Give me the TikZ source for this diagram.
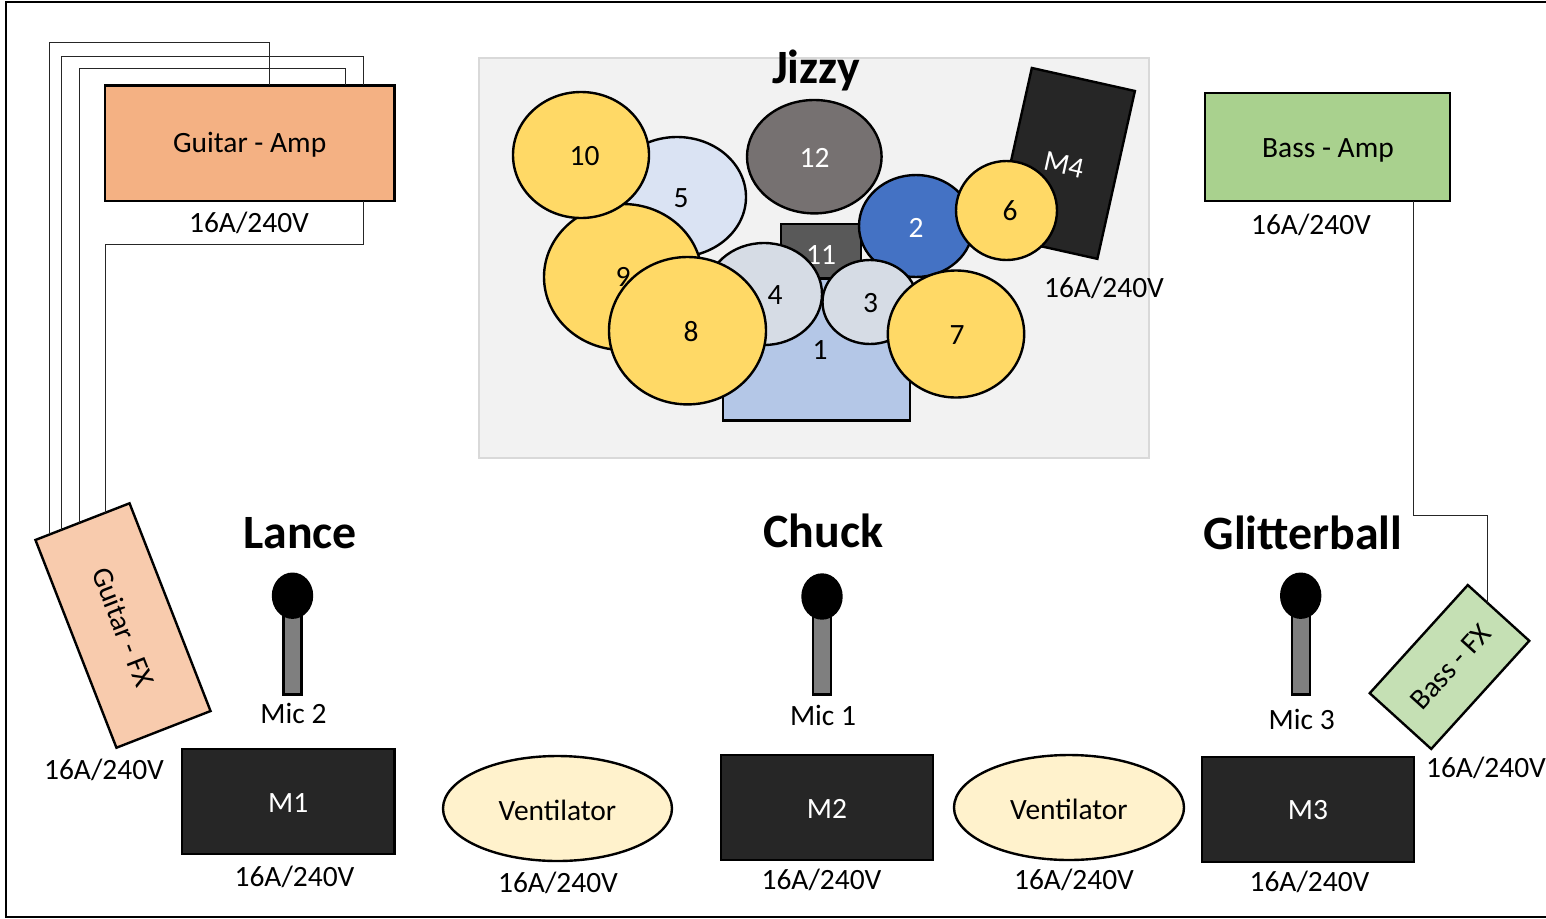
\documentclass[tikz,border=0pt]{standalone}
\usepackage{fontspec}
\setmainfont{Carlito}
\usetikzlibrary{shapes.geometric,calc}
\def\px{0.75pt}
\definecolor{stagefill}{HTML}{F2F2F2}
\definecolor{stageedge}{HTML}{D9D9D9}
\definecolor{cymbal}{HTML}{FFD966}
\definecolor{monitor}{HTML}{262626}
\definecolor{tomlight}{HTML}{DAE3F3}
\definecolor{tomgrey}{HTML}{D6DCE5}
\definecolor{kick}{HTML}{B4C7E7}
\definecolor{tomblue}{HTML}{4472C4}
\definecolor{tomdark}{HTML}{767171}
\definecolor{seat}{HTML}{595959}
\definecolor{stem}{HTML}{7F7F7F}
\definecolor{gamp}{HTML}{F4B183}
\definecolor{gfx}{HTML}{F8CBAD}
\definecolor{bamp}{HTML}{A9D18E}
\definecolor{bfx}{HTML}{C5E0B4}
\definecolor{vent}{HTML}{FFF2CC}
\tikzset{
  txt/.style={font=\fontsize{22.1pt}{26pt}\selectfont,inner sep=0pt},
  head/.style={font=\fontsize{35.9pt}{42pt}\selectfont\bfseries,inner sep=0pt},
  box/.style={draw=black,line width=1.8pt,inner sep=0pt,outer sep=0pt,txt},
  disc/.style={box,ellipse},
  wire/.style={line width=1*\px,draw=black!85},
}
\begin{document}
\begin{tikzpicture}[x=0.75pt,y=0.75pt,yscale=-1,xscale=1]
\useasboundingbox (0,0) rectangle (1546,918);

%Shape: Rectangle
\draw [line width=1.5pt] (6,1.5) rectangle (1570,916.7);
%Shape: Rectangle
\node (stage) at (814,258) [draw=stageedge,fill=stagefill,line width=1.5pt,minimum width=670*\px,minimum height=400*\px] {};
\node (jizzy) at (816,70) [head] {Jizzy};

%Shape: Rectangle
\node (m4) at (1064.6,163.4) [box,fill=monitor,rotate=-12.6,minimum width=105.6*\px,minimum height=172*\px] {};
\node (m4txt) at (1064,165) [txt,text=white,rotate=-12.6] {M4};
\node (d1) at (816.5,349.5) [box,fill=kick,minimum width=187*\px,minimum height=142*\px] {};
\node (d1txt) at (820,350) [txt] {1};
\node (d11) at (820.7,251) [box,fill=seat,minimum width=80*\px,minimum height=54*\px] {};
\node (d11txt) at (821,255) [txt,text=white] {11};
%Shape: Ellipse
\node (d2) at (916,226) [disc,fill=tomblue,minimum width=114*\px,minimum height=102*\px] {};
\node (d2txt) at (916,228) [txt,text=white] {2};
\node (d12) at (814.3,156.7) [disc,fill=tomdark,minimum width=134.6*\px,minimum height=113.4*\px] {};
\node (d12txt) at (814.5,158) [txt,text=white] {12};
\node (d5) at (677,197) [disc,fill=tomlight,minimum width=138*\px,minimum height=120*\px] {};
\node (d5txt) at (681,198) [txt] {5};
\node (d9) at (623,277) [disc,fill=cymbal,minimum width=158*\px,minimum height=146*\px] {9};
\node (d10) at (581,155) [disc,fill=cymbal,minimum width=136*\px,minimum height=126*\px] {};
\node (d10txt) at (584.5,156) [txt] {10};
\node (d4) at (764,294) [disc,fill=tomgrey,minimum width=116*\px,minimum height=102*\px] {};
\node (d4txt) at (775,295) [txt] {4};
\node (d3) at (870,302) [disc,fill=tomgrey,minimum width=95*\px,minimum height=84*\px] {};
\node (d3txt) at (870.5,303) [txt] {3};
\node (d8) at (687.5,330.7) [disc,fill=cymbal,minimum width=157*\px,minimum height=147.4*\px] {};
\node (d8txt) at (691,332) [txt] {8};
\node (d7) at (956,334) [disc,fill=cymbal,minimum width=136.4*\px,minimum height=127*\px] {};
\node (d7txt) at (957,335) [txt] {7};
\node (d6) at (1006.5,210.5) [disc,fill=cymbal,minimum width=101*\px,minimum height=99*\px] {};
\node (d6txt) at (1010,211) [txt] {6};

%Shape: Rectangle
\node (guitaramp) at (249.7,143.2) [box,fill=gamp,minimum width=289.4*\px,minimum height=115.7*\px] {};
\node (guitaramptxt) at (249.7,144.5) [txt] {Guitar - Amp};
\node (bassamp) at (1327.5,147) [box,fill=bamp,minimum width=245*\px,minimum height=108*\px] {};
\node (bassamptxt) at (1328,150) [txt] {Bass - Amp};
\node (guitarfx) at (123,625.5) [box,fill=gfx,rotate=-68.7,minimum width=223*\px,minimum height=101*\px] {};
\node (guitarfxtxt) at (123.5,627) [txt,rotate=-68.7] {Guitar - FX};
\node (bassfx) at (1449.5,667) [box,fill=bfx,rotate=47.8,minimum width=146*\px,minimum height=83*\px] {};
\node (bassfxtxt) at (1450.5,667) [txt,rotate=47.8] {Bass - FX};

%Straight Lines
\coordinate (wirea) at (269.3,42.3);
\coordinate (wireb) at (363.3,56.7);
\coordinate (wirec) at (345.3,68.7);
\coordinate (wired) at (363.3,244);
\coordinate (wiree) at (1413.7,515.3);
\coordinate (fxa) at ($(guitarfx.south west)!0.15!(guitarfx.north west)$);
\coordinate (fxb) at ($(guitarfx.south west)!0.277!(guitarfx.north west)$);
\coordinate (fxc) at ($(guitarfx.south west)!0.466!(guitarfx.north west)$);
\coordinate (fxd) at ($(guitarfx.south west)!0.744!(guitarfx.north west)$);
\coordinate (fxe) at ($(bassfx.north east)!0.323!(bassfx.south east)$);
\draw [wire] (fxa) |- (wirea) -- (wirea |- guitaramp.north);
\draw [wire] (fxb) |- (wireb) -- (wireb |- guitaramp.north);
\draw [wire] (fxc) |- (wirec) -- (wirec |- guitaramp.north);
\draw [wire] (wired |- guitaramp.south) -- (wired) -| (fxd);
\draw [wire] (wiree |- bassamp.south) -- (wiree) -| (fxe);

% Mics
\foreach \name/\mx/\my/\mlabel/\ly in {mictwo/292.5/595.7/Mic 2/713,micone/822/596.5/Mic 1/715,micthree/1300.7/595.7/Mic 3/719}{
  \node (\name stem) at (\mx,655) [box,fill=stem,minimum width=18*\px,minimum height=79*\px] {};
  \node (\name head) at (\mx,\my) [disc,fill=black,minimum width=39*\px,minimum height=44*\px] {};
  \node (\name txt) at (\mx+1,\ly) [txt] {\mlabel};
}

%Shape: Rectangle
\node (m1) at (288.3,801.5) [box,fill=monitor,minimum width=212.7*\px,minimum height=105*\px] {};
\node (m1txt) at (288.3,803.5) [txt,text=white] {M1};
\node (m2) at (827,807.5) [box,fill=monitor,minimum width=212*\px,minimum height=105*\px] {};
\node (m2txt) at (827,809) [txt,text=white] {M2};
\node (m3) at (1308,809.2) [box,fill=monitor,minimum width=212*\px,minimum height=105*\px] {};
\node (m3txt) at (1308,810.5) [txt,text=white] {M3};
%Shape: Ellipse
\node (venta) at (557.5,808.5) [disc,fill=vent,minimum width=229*\px,minimum height=105*\px] {};
\node (ventatxt) at (557.5,810.5) [txt] {Ventilator};
\node (ventb) at (1069,807.5) [disc,fill=vent,minimum width=230*\px,minimum height=105*\px] {};
\node (ventbtxt) at (1069,809.5) [txt] {Ventilator};

% Text Node
\node (lance) at (300,533) [head] {Lance};
\node (chuck) at (823.5,531) [head] {Chuck};
\node (glitter) at (1303,533) [head] {Glitterball};
% Text Node
\node (powa) at (249,222.5) [txt] {16A/240V};
\node (powb) at (1311,224.5) [txt] {16A/240V};
\node (powc) at (1104,288) [txt] {16A/240V};
\node (powd) at (104,770) [txt] {16A/240V};
\node (powe) at (294.5,877) [txt] {16A/240V};
\node (powf) at (558,883) [txt] {16A/240V};
\node (powg) at (821.5,880) [txt] {16A/240V};
\node (powh) at (1074,880) [txt] {16A/240V};
\node (powi) at (1309.5,882) [txt] {16A/240V};
\node (powj) at (1486,768) [txt] {16A/240V};

\end{tikzpicture}
\end{document}
